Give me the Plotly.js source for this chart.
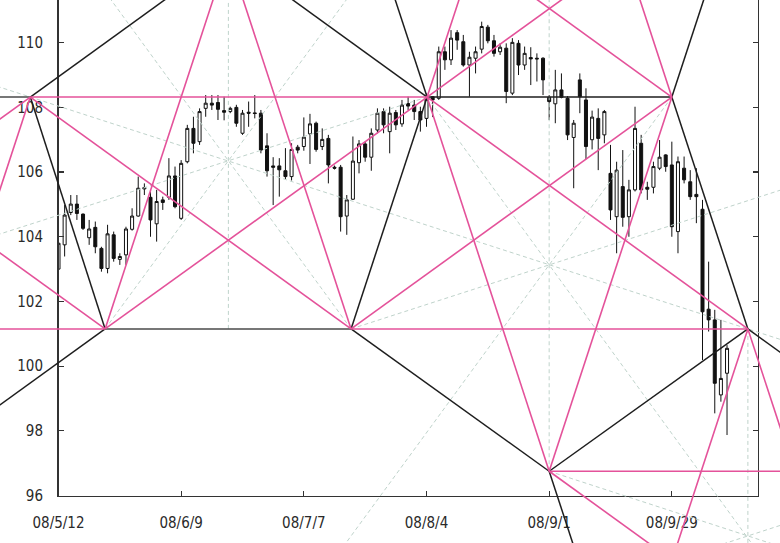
<!DOCTYPE html>
<html><head><meta charset="utf-8">
<script src="https://cdn.plot.ly/plotly-3.0.1.min.js"></script>
<style>html,body{margin:0;padding:0;background:#fff}#chart{width:780px;height:543px}</style>
</head><body><div id="chart"></div>
<script>
// ---- data ----
const tickVals = [0, 20, 40, 60, 80, 100];
const tickLabels = ['08/5/12', '08/6/9', '08/7/7', '08/8/4', '08/9/1', '08/9/29'];
const priceTicks = [96, 98, 100, 102, 104, 106, 108, 110];

const openP = [103.00,103.75,104.75,105.01,104.70,103.97,104.29,103.64,103.02,104.06,
103.30,103.44,104.23,104.64,105.48,105.22,104.40,105.14,105.22,105.88,
104.57,106.32,107.35,106.94,107.97,108.13,108.15,107.90,107.87,108.00,
107.20,107.85,107.83,107.82,106.81,106.19,106.19,106.04,105.86,106.77,
106.79,107.18,107.51,106.79,107.04,106.15,106.15,104.64,105.16,106.29,
106.87,106.46,107.30,107.87,107.25,107.84,107.49,108.12,108.07,107.87,
107.66,108.33,108.28,109.72,109.47,110.31,110.03,109.31,109.52,109.80,
110.48,110.06,109.72,109.83,108.44,109.98,109.31,109.54,109.52,109.52,
108.31,108.11,108.54,108.28,107.07,108.85,108.23,107.00,107.66,107.15,
105.96,104.62,105.55,104.62,105.45,106.89,105.53,105.53,106.12,106.53,
106.22,104.16,106.12,105.70,105.31,104.85,101.76,101.43,99.11,99.78];
const highP = [104.10,104.98,105.29,105.29,104.72,104.52,104.47,103.69,104.37,104.16,
103.49,104.31,104.88,105.86,105.65,105.40,105.45,105.24,106.43,106.17,
106.37,107.46,107.71,107.97,108.38,108.38,108.38,108.33,108.02,108.08,
107.92,108.18,108.38,107.92,107.20,106.46,106.43,106.74,106.89,106.84,
107.69,107.80,107.56,107.35,107.15,106.20,106.22,105.29,107.10,106.99,
106.94,107.35,107.97,107.97,108.02,107.92,108.23,108.33,108.23,108.02,
108.43,108.35,109.88,109.88,110.39,110.39,110.24,109.72,109.88,110.65,
110.55,110.24,109.98,109.98,110.14,110.08,109.88,109.86,109.67,109.55,
108.38,109.16,109.05,108.35,107.61,109.05,108.59,107.90,107.97,107.92,
106.84,106.32,106.68,105.76,108.02,107.15,105.70,106.32,106.99,106.55,
106.94,106.48,106.48,106.06,106.12,105.14,103.23,101.74,101.43,100.65];
const lowP = [102.70,103.39,104.67,104.52,104.21,103.75,103.49,102.92,102.87,103.23,
103.13,103.13,104.19,104.62,105.29,104.00,103.85,104.83,105.14,104.88,
104.52,106.27,106.58,106.84,107.71,107.92,107.61,107.60,107.82,107.40,
107.15,107.40,107.66,106.58,105.86,104.98,105.24,105.78,105.74,106.58,
106.66,106.25,106.63,106.68,105.65,106.08,104.16,104.06,105.14,105.96,
106.32,106.04,107.20,107.20,106.58,107.30,107.40,107.92,107.61,107.25,
107.40,107.70,108.23,109.16,109.31,109.78,109.26,108.33,109.05,109.67,
109.98,109.57,109.62,108.13,108.38,109.00,109.16,108.69,108.80,108.38,
107.61,107.51,108.28,106.99,105.50,107.82,106.40,106.70,106.06,106.89,
104.52,103.49,104.31,104.00,105.40,105.34,105.14,105.34,106.06,106.01,
104.00,103.49,105.65,105.14,104.42,100.19,101.07,98.54,98.90,97.87];
const closeP = [103.80,104.67,105.01,104.72,104.26,104.24,103.69,103.02,104.09,103.33,
103.39,104.24,104.64,105.50,105.52,104.52,105.09,105.06,105.88,104.93,
106.27,107.35,106.89,107.87,108.13,108.07,107.94,107.85,107.97,107.51,
107.82,107.82,107.81,106.68,106.04,106.15,106.07,105.86,106.70,106.68,
107.08,107.49,106.70,107.01,106.22,106.12,104.62,105.14,106.34,106.87,
106.46,107.20,107.82,107.46,107.82,107.46,108.07,108.04,107.87,107.61,
108.25,108.23,109.72,109.47,110.14,110.08,109.31,109.55,109.72,110.50,
110.06,109.67,109.86,108.49,110.01,109.31,109.67,109.50,109.50,108.85,
108.18,108.54,108.31,107.15,107.51,108.33,106.79,107.70,107.04,107.87,
104.83,106.06,104.60,105.45,107.35,105.45,105.47,106.17,106.46,106.17,
104.31,106.32,105.76,105.24,105.24,101.68,101.43,99.47,99.62,100.55];
const dayIndex = openP.map((_, i) => i);

// turning points of the drawn construction (trading-day index, price)
const pivotNames = ['A', 'B', 'C', 'D', 'E', 'F', 'G', 'N1', 'M1', 'M2', 'M3', 'P3'];
const pivotDay   = [-4.6, 7.6, 47.7, 60.1, 100.0, 80.0, 112.4, 27.7, 27.7, 80.0, 112.4, 144.8];
const pivotPrice = [108.32, 101.15, 101.15, 108.32, 108.32, 96.75, 101.15, 101.15, 106.35, 103.13, 94.75, 96.75];
const steepStep = [12.4, 7.17];
const shallowStep = [52.3, 7.17];

// solid segments: [from, to, colour]; "P>dir" / "P<dir" = far along +/- dir from P
const solidSegments = [
  ['A', 'A<H0', 'g'], ['A', 'D', 'p'], ['D', 'E', 'k'],
  ['B', 'B<H0', 'p'], ['B', 'C', 'g'], ['C', 'G', 'p'], ['F', 'F>H0', 'p'],
  ['A', 'B', 'k'], ['A', 'A>H+', 'k'], ['A', 'A<H+', 'p'], ['A', 'C', 'p'], ['A', 'A<S+', 'p'],
  ['B', 'B<H+', 'k'], ['B', 'D', 'p'], ['B', 'B>S+', 'p'], ['B', 'B<H-', 'p'],
  ['C', 'C<S-', 'p'], ['C', 'D', 'k'], ['C', 'E', 'p'], ['C', 'F', 'k'],
  ['D', 'D<S-', 'k'], ['D', 'F', 'p'], ['D', 'D>S+', 'p'], ['D', 'D<H-', 'k'], ['D', 'G', 'p'], ['D', 'D>H+', 'p'],
  ['E', 'E<S-', 'p'], ['E', 'G', 'k'], ['E', 'E>S+', 'k'], ['E', 'F', 'p'], ['E', 'E<H-', 'p'],
  ['F', 'G', 'k'], ['F', 'F>S-', 'k'], ['F', 'F>H-', 'p'],
  ['G', 'G>H-', 'k'], ['G', 'G<S+', 'p'], ['G', 'G>S-', 'p']
];
// dashed guides: "P~Q" = far beyond Q on the line from P through Q
const dashedSegments = [
  ['G~A', 'A~G'], ['D', 'D~M1'], ['C', 'C~M1'], ['B', 'B~M1'], ['N1', 'N1~M1'],
  ['D', 'D~M2'], ['E', 'E~M2'], ['C', 'C~M2'], ['F', 'F~M2'],
  ['G', 'G~M3'], ['F', 'F~M3'], ['P3', 'P3~M3']
];
const colourKey = {k: '#1e1e1e', g: '#4a4a4a', p: '#e4529a'};

// ---- geometry helpers ----
function pivot(n) { const i = pivotNames.indexOf(n); return [pivotDay[i], pivotPrice[i]]; }
function dirVec(d) {
  if (d === 'H0') return [1, 0];
  const s = d[0] === 'S' ? steepStep : shallowStep;
  return [s[0], d[1] === '+' ? s[1] : -s[1]];
}
function point(spec) {
  const FAR = 40;
  if (spec.includes('~')) {
    const [a, b] = spec.split('~').map(pivot);
    return [a[0] + FAR * (b[0] - a[0]), a[1] + FAR * (b[1] - a[1])];
  }
  const m = spec.match(/^(\w+?)([<>])(H0|[SH][+-])$/);
  if (m) {
    const p = pivot(m[1]), v = dirVec(m[3]);
    const k = (m[3] === 'H0' ? 300 : FAR) * (m[2] === '>' ? 1 : -1);
    return [p[0] + k * v[0], p[1] + k * v[1]];
  }
  return pivot(spec);
}
function segTrace(list, colour, dash, width) {
  const x = [], y = [];
  list.forEach(s => { const a = point(s[0]), b = point(s[1]); x.push(a[0], b[0], null); y.push(a[1], b[1], null); });
  return {type: 'scatter', mode: 'lines', x, y, xaxis: 'x2', yaxis: 'y2', hoverinfo: 'skip',
          line: {color: colour, width, dash}, showlegend: false, connectgaps: false};
}

// ---- layout geometry ----
const W = 780, H = 543;
const plotLeft = 58.5, plotRight = 757.7, plotTop = 0, plotBottom = 495.5;
const xRange = [0, 114], yRange = [96, 111.32];
const xd = [plotLeft / W, plotRight / W], yd = [(H - plotBottom) / H, 1 - plotTop / H];
function extend(r, d) { const s = (r[1] - r[0]) / (d[1] - d[0]); return [r[0] - s * d[0], r[1] + s * (1 - d[1])]; }

const traces = [
  {type: 'candlestick', x: dayIndex, open: openP, high: highP, low: lowP, close: closeP,
   xaxis: 'x', yaxis: 'y', whiskerwidth: 0, hoverinfo: 'skip', showlegend: false,
   increasing: {line: {color: '#111', width: 1}, fillcolor: '#ffffff'},
   decreasing: {line: {color: '#111', width: 1}, fillcolor: '#111111'}},
  segTrace(dashedSegments, '#bfd3cb', '4px,3px', 1),
  segTrace(solidSegments.filter(s => s[2] === 'g'), colourKey.g, 'solid', 1.6),
  segTrace(solidSegments.filter(s => s[2] === 'k'), colourKey.k, 'solid', 1.5),
  segTrace(solidSegments.filter(s => s[2] === 'p'), colourKey.p, 'solid', 1.6)
];

const tickFont = {family: '"DejaVu Sans Condensed", "Liberation Sans Narrow", "Arial Narrow", sans-serif', size: 15, color: '#2a2a2a'};
const layout = {
  width: W, height: H, margin: {l: 0, r: 0, t: 0, b: 0},
  paper_bgcolor: '#fff', plot_bgcolor: 'rgba(0,0,0,0)', showlegend: false, hovermode: false,
  xaxis: {domain: xd, range: xRange, tickvals: tickVals, ticktext: tickLabels, ticks: 'inside', ticklen: 5,
          tickcolor: '#333', tickwidth: 1.2, showline: true, linecolor: '#333', linewidth: 1.5, showgrid: false,
          zeroline: false, tickfont: tickFont, ticklabelstandoff: 13, rangeslider: {visible: false}, fixedrange: true},
  yaxis: {domain: yd, range: yRange, tickvals: priceTicks, ticks: 'inside', ticklen: 5, tickcolor: '#333', tickwidth: 1.2,
          showline: true, mirror: 'ticks', linecolor: '#333', linewidth: 1.5, showgrid: false, zeroline: false,
          tickfont: tickFont, ticklabelstandoff: 11, fixedrange: true},
  xaxis2: {domain: [0, 1], range: extend(xRange, xd), anchor: 'y2', visible: false, fixedrange: true},
  yaxis2: {domain: [0, 1], range: extend(yRange, yd), anchor: 'x2', visible: false, fixedrange: true}
};
Plotly.newPlot('chart', traces, layout, {staticPlot: true, displayModeBar: false});
</script></body></html>
